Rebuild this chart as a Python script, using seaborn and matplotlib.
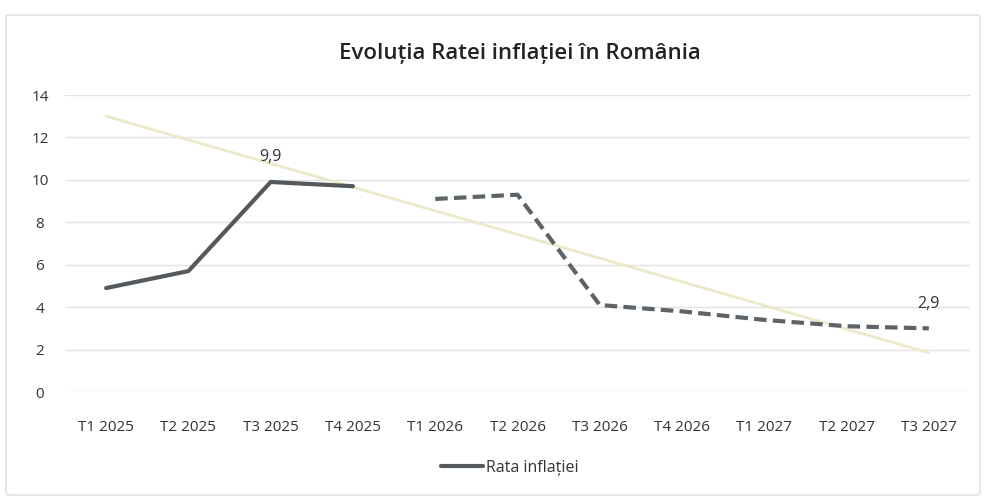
import matplotlib
matplotlib.use("Agg")
import matplotlib.pyplot as plt
from matplotlib.patches import FancyBboxPatch
from matplotlib.lines import Line2D
import seaborn as sns
import pandas as pd
import numpy as np

categories = ["T1 2025", "T2 2025", "T3 2025", "T4 2025", "T1 2026", "T2 2026",
              "T3 2026", "T4 2026", "T1 2027", "T2 2027", "T3 2027"]
actual_values = [4.9, 5.7, 9.9, 9.7]
forecast_values = [9.1, 9.3, 4.1, 3.8, 3.4, 3.1, 3.0]
trend_start_end = [13.0, 1.85]
label_points = {"T3 2025": "9,9", "T3 2027": "2,9"}
label_values = {"T3 2025": 9.9, "T3 2027": 3.0}
y_ticks = [0, 2, 4, 6, 8, 10, 12, 14]
title = "Evoluția Ratei inflației în România"
legend_label = "Rata inflației"

sns.set_theme(style="white")
plt.rcParams['font.family'] = ['Open Sans', 'DejaVu Sans']

fig = plt.figure(figsize=(9.86, 4.99), dpi=100)
fig.patch.set_facecolor("white")
frame = FancyBboxPatch((6 / 986, 4 / 499), 974 / 986, 480 / 499,
                       boxstyle="round,pad=0,rounding_size=0.004",
                       transform=fig.transFigure, facecolor="none",
                       edgecolor="#e3e3e3", linewidth=1.2, zorder=-5)
fig.patches.append(frame)

ax = fig.add_axes([65 / 986, (499 - 392) / 499, 905 / 986, 297 / 499])
ax.set_facecolor("none")
ax.set_zorder(2)

idx = np.arange(len(categories))
df_act = pd.DataFrame({"x": idx[:len(actual_values)], "y": actual_values})
df_fc = pd.DataFrame({"x": idx[len(actual_values):], "y": forecast_values})
df_tr = pd.DataFrame({"x": [idx[0], idx[-1]], "y": trend_start_end})

sns.lineplot(data=df_tr, x="x", y="y", ax=ax, color="#ece8c8", linewidth=2.0, zorder=2)
sns.lineplot(data=df_act, x="x", y="y", ax=ax, color="#54595e", linewidth=3.0, zorder=3)
sns.lineplot(data=df_fc, x="x", y="y", ax=ax, color="#5d6469", linewidth=3.0,
             linestyle=(0, (3.0, 1.5)), zorder=3)

for cat, txt in label_points.items():
    i = categories.index(cat)
    ax.annotate(txt, (i, label_values[cat]), xytext=(0, 12), textcoords="offset points",
                ha="center", va="bottom", fontsize=11.5, color="#333333")

ax.set_xlim(-0.5, len(categories) - 0.5)
ax.set_ylim(0, 14)
ax.set_yticks(y_ticks)
ax.set_yticklabels([str(t) for t in y_ticks])
ax.set_xticks(idx)
ax.set_xticklabels(categories)
ax.tick_params(axis="both", length=0, labelsize=11, colors="#333333")
ax.tick_params(axis="y", pad=18)
ax.tick_params(axis="x", pad=20)
for lab in ax.get_yticklabels():
    lab.set_horizontalalignment("center")
ax.yaxis.grid(True, color="#e2e2e2", linewidth=1.0)
ax.xaxis.grid(False)
for s in ax.spines.values():
    s.set_visible(False)
ax.set_xlabel("")
ax.set_ylabel("")

fig.text(520 / 986, 1 - 54 / 499, title, ha="center", va="center",
         fontsize=16, fontweight="semibold", color="#222222")

handle = Line2D([], [], color="#54595e", linewidth=3.0)
fig.legend([handle], [legend_label], loc="center", bbox_to_anchor=(510 / 986, 1 - 468 / 499),
           frameon=False, fontsize=11.5, handlelength=2.6, handletextpad=0.2,
           labelcolor="#333333")

fig.savefig("out.png", dpi=100, facecolor="white")
